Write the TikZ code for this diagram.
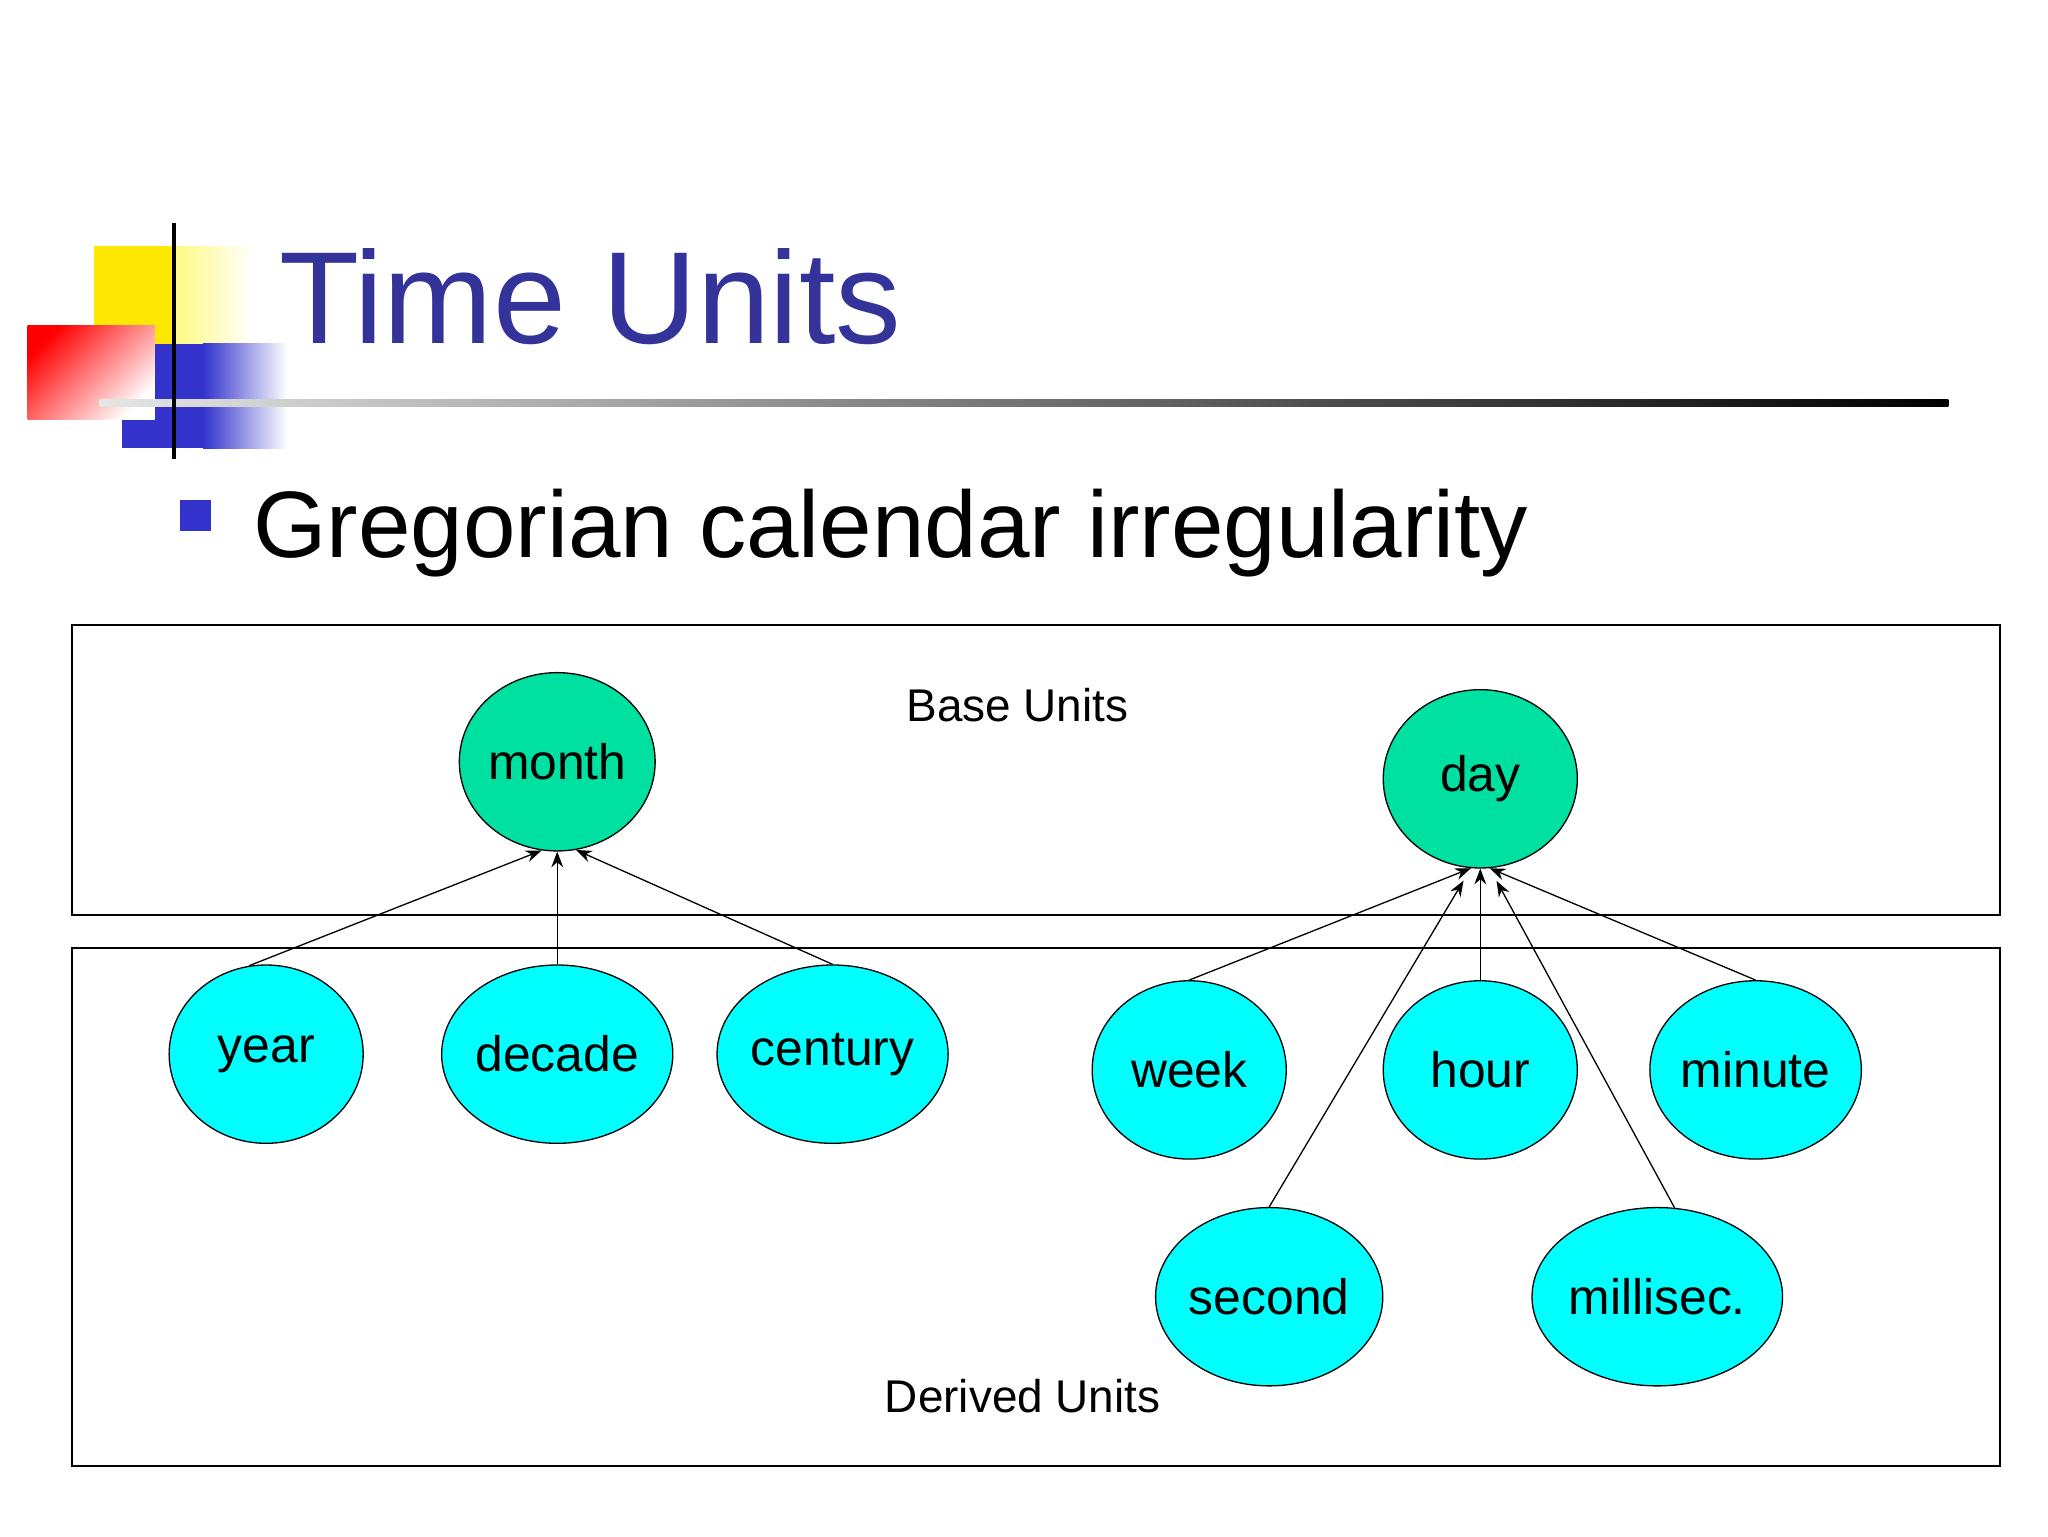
\documentclass[tikz,border=0pt]{standalone}
\usepackage{fontspec}
\setmainfont{Liberation Sans}
\usetikzlibrary{arrows.meta,shapes.geometric}
\definecolor{ttl}{RGB}{51,51,153}
\definecolor{bul}{RGB}{51,51,204}
\definecolor{base}{RGB}{0,224,160}
\definecolor{der}{RGB}{0,255,255}
\begin{document}
\begin{tikzpicture}[x=1pt,y=-1pt,
  unit/.style={ellipse,draw=black,line width=1pt,minimum width=148pt,minimum height=136pt,inner sep=0pt,font=\fontsize{38}{40}\selectfont},
  bunit/.style={unit,fill=base},
  dunit/.style={unit,fill=der},
  frame/.style={draw=black,line width=1.5pt},
  arr/.style={-{Stealth[length=12pt,width=9pt]},line width=1pt}]
\useasboundingbox[fill=white] (0,0) rectangle (1562,1172);
% decoration
\shade[left color=yellow!90!orange,right color=white] (72,188) rectangle (193,262);
\fill[yellow!90!orange] (72,188) rectangle (133,262);
\shade[left color=bul,right color=white] (155,262) rectangle (219,342);
\fill[bul] (93,262) rectangle (155,342);
\shade[left color=red,right color=white,shading angle=45] (21,248) rectangle (118,320);
\shade[left color=gray!20,right color=black] (76,305) rectangle (1486,310);
\draw[line width=3pt] (133,170) -- (133,350);
\node[anchor=base west,text=ttl,font=\fontsize{100}{100}\selectfont,inner sep=0pt] (title) at (213,262) {Time Units};
\fill[bul] (137,381) rectangle (161,405);
\node[anchor=base west,font=\fontsize{72}{72}\selectfont,inner sep=0pt] (bullet) at (193,425) {Gregorian calendar irregularity};
% frames
\draw[frame] (55,477) rectangle (1525,698);
\draw[frame] (55,723) rectangle (1525,1118);
\node[font=\fontsize{35}{36}\selectfont] (bl) at (776,538) {Base Units};
\node[font=\fontsize{35}{36}\selectfont] (dl) at (780,1065) {Derived Units};
% nodes
\node[bunit] (month) at (425,581) {month};
\node[bunit] (day) at (1129,594) {day};
\node[dunit] (year) at (203,804) {year};
\node[dunit] (decade) at (425,804) {decade};
\node[dunit] (century) at (635,804) {century};
\node[dunit] (week) at (907,816) {week};
\node[dunit] (hour) at (1129,816) {hour};
\node[dunit] (minute) at (1339,816) {minute};
\node[dunit] (second) at (968,989) {second};
\node[dunit] (milli) at (1264,989) {millisec.};
% arrows
\draw[arr] (year.101) -- (month.-100);
\draw[arr] (decade.north) -- (month.south);
\draw[arr] (century.north) -- (month.-78);
\draw[arr] (week.north) -- (day.-96);
\draw[arr] (hour.north) -- (day.south);
\draw[arr] (minute.north) -- (day.-84);
\draw[arr,shorten >=11pt] (second.north) -- (day.-96);
\draw[arr,shorten >=11pt] (milli.79) -- (day.-84);
\end{tikzpicture}
\end{document}
